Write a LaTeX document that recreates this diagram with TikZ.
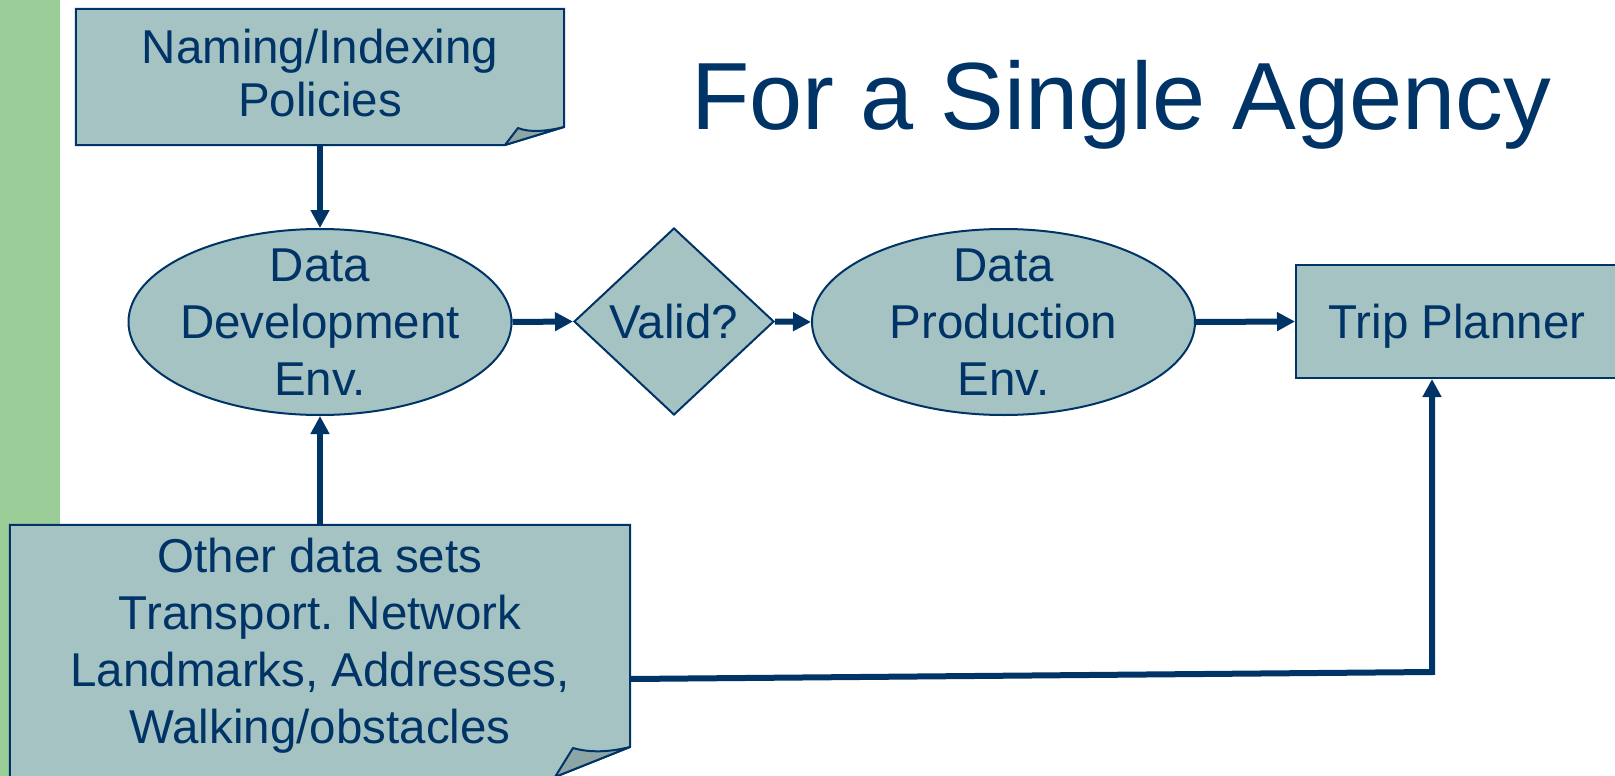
\documentclass[tikz,border=0pt]{standalone}
\usepackage{fontspec}
\setmainfont{Liberation Sans}
\usetikzlibrary{shapes.geometric,arrows.meta,calc}
\definecolor{ink}{RGB}{0,51,102}
\definecolor{slate}{RGB}{165,195,195}
\definecolor{flapshade}{RGB}{140,166,166}
\definecolor{leaf}{RGB}{155,205,152}
\frenchspacing
\begin{document}
\begin{tikzpicture}[x=1pt,y=-1pt,
  body/.style={font=\fontsize{47.5pt}{57pt}\selectfont, text=ink, align=center},
  outline/.style={draw=ink, line width=2pt, fill=slate},
  flapstyle/.style={draw=ink, line width=2pt, fill=flapshade, line join=round},
  flow/.style={draw=ink, line width=6pt, -{Triangle[length=18pt,width=18pt]}},
  hidden/.style={draw=none, fill=none, inner sep=0pt},
  oval/.style={ellipse, outline, body, minimum width=383pt, minimum height=186pt,
               inner xsep=-12pt, inner ysep=-14pt},
]
\useasboundingbox (0,0) rectangle (1615,776);
\clip (0,0) rectangle (1615,776);

% side band
\fill[leaf] (0,0) rectangle (60,776);

% policy document with curled corner
\node[hidden, minimum width=488pt, minimum height=136pt] (pol) at (320,77) {};
\draw[outline] (pol.north west) -- (pol.north east) -- (564,127) -- (505,145) -- (pol.south west) -- cycle;
\draw[flapstyle] (505,145) -- (518,128) .. controls (530,133) and (548,131) .. (564,127) -- cycle;
\node[body, font=\fontsize{47.5pt}{52.5pt}\selectfont] (poltxt) at (320,73) {Naming/Indexing\\Policies};

% other data sets document with curled corner
\node[hidden, minimum width=620pt, minimum height=252pt] (oth) at (320,651) {};
\draw[outline] (oth.north west) -- (oth.north east) -- (630,747) -- (555,777) -- (oth.south west) -- cycle;
\draw[flapstyle] (555,777) -- (573,748) .. controls (590,753) and (610,752) .. (630,747) -- cycle;
\node[body] (othtxt) at (320,646) {Other data sets\\Transport. Network\\Landmarks, Addresses,\\Walking/obstacles};

% process shapes
\node[oval] (dev) at (320,322) {Data\\Development\\Env.};
\node[diamond, outline, minimum width=200pt, minimum height=187pt, inner sep=0pt, body, text depth=0pt] (val) at (674,321.5) {Valid?};
\node[oval] (prod) at (1003.5,322) {Data\\Production\\Env.};
\node[rectangle, outline, minimum width=322pt, minimum height=113pt, inner sep=0pt, body, text depth=0pt] (trip) at (1457,321.5) {Trip Planner};

% title
\node[text=ink, font=\fontsize{95.5pt}{110pt}\selectfont, anchor=base] (title) at (1121,129) {For a Single Agency};

% connectors
\draw[flow] (pol.south) -- (dev.north);
\draw[flow] (oth.north) -- (dev.south);
\draw[flow] (dev.east) -- (val.west);
\draw[flow] (val.east) -- (prod.west);
\draw[flow] (prod.east) -- (trip.west);
\coordinate (bend) at (1432,672);
\draw[flow] ([yshift=-28pt]oth.east) -- (bend) -- (bend |- trip.south);
\end{tikzpicture}
\end{document}
